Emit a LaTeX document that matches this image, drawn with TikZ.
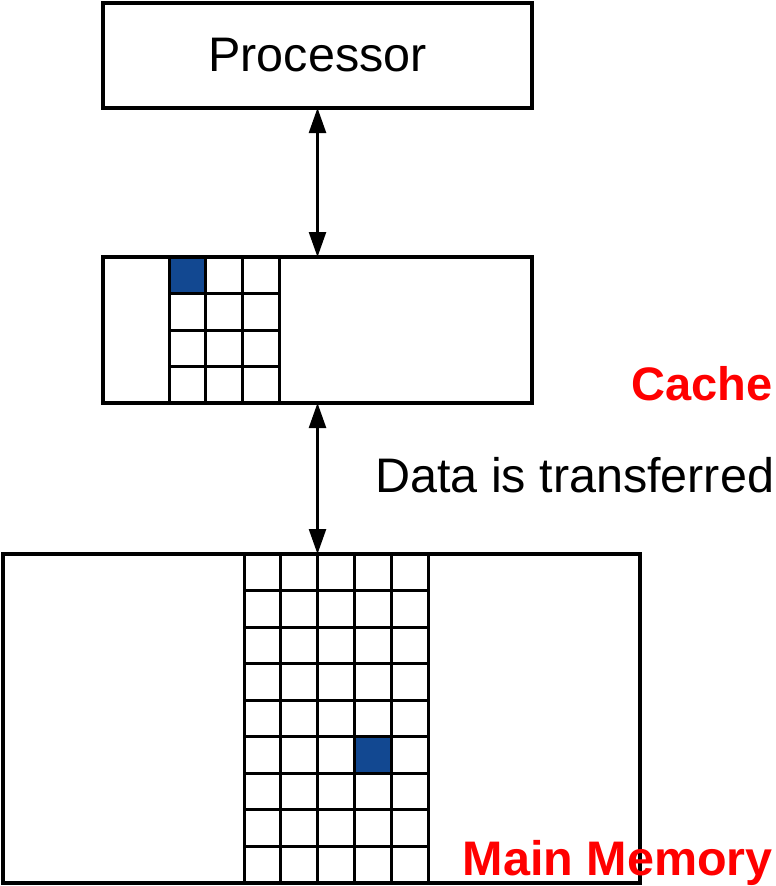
\documentclass[tikz,border=0pt]{standalone}
\usepackage{fontspec}
\setmainfont{Liberation Sans}
\usetikzlibrary{arrows.meta}
\definecolor{cellblue}{RGB}{18,72,145}
\definecolor{labred}{RGB}{255,0,0}
\tikzset{
  box/.style={draw=black, line width=3.2pt, rectangle, inner sep=0pt, outer sep=0pt},
  gridline/.style={draw=black, line width=3pt},
  link/.style={line width=2.4pt, {Triangle[length=25pt,width=17pt]}-{Triangle[length=25pt,width=17pt]}},
  plain/.style={font=\fontsize{48.5}{56}\selectfont, inner sep=0pt},
  redlab/.style={font=\bfseries\fontsize{47}{56}\selectfont, text=labred, inner sep=0pt}
}
\begin{document}
\begin{tikzpicture}[x=1pt,y=-1pt]
\useasboundingbox (0,0) rectangle (776,886);
% boxes
\node[box, minimum width=429pt, minimum height=105pt] (proc) at (317.5,55.5) {};
\node[box, minimum width=429pt, minimum height=146pt] (cache) at (317.5,330) {};
\node[box, minimum width=637pt, minimum height=329pt] (mem) at (321.5,718.5) {};
% processor text
\node[plain] (ptext) at (proc.center) {Processor};
% cache grid
\fill[cellblue] (169,257) rectangle (205.7,293.5);
\foreach \xx in {169,205.7,242.3,279} { \draw[gridline] (\xx,257) -- (\xx,403); }
\foreach \yy in {293.5,330,366.5} { \draw[gridline] (169,\yy) -- (279,\yy); }
% memory grid
\fill[cellblue] (354.4,736.3) rectangle (391.2,772.9);
\foreach \xx in {244,280.8,317.6,354.4,391.2,428} { \draw[gridline] (\xx,554) -- (\xx,883); }
\foreach \k in {1,...,8} { \draw[gridline] (244,554+36.555*\k) -- (428,554+36.555*\k); }
% redraw outer boxes on top
\node[box, minimum width=429pt, minimum height=146pt] at (317.5,330) {};
\node[box, minimum width=637pt, minimum height=329pt] at (321.5,718.5) {};
% connectors
\draw[link] (proc.south) -- (cache.north);
\draw[link] (cache.south) -- (cache.south |- mem.north);
% labels
\node[plain, anchor=base west] (data) at (375,492) {Data is transferred};
\node[redlab, anchor=base east] (clab) at (773,400) {Cache};
\node[redlab, anchor=base east, font=\bfseries\fontsize{48.5}{56}\selectfont] (mlab) at (773,875) {Main Memory};
\end{tikzpicture}
\end{document}
